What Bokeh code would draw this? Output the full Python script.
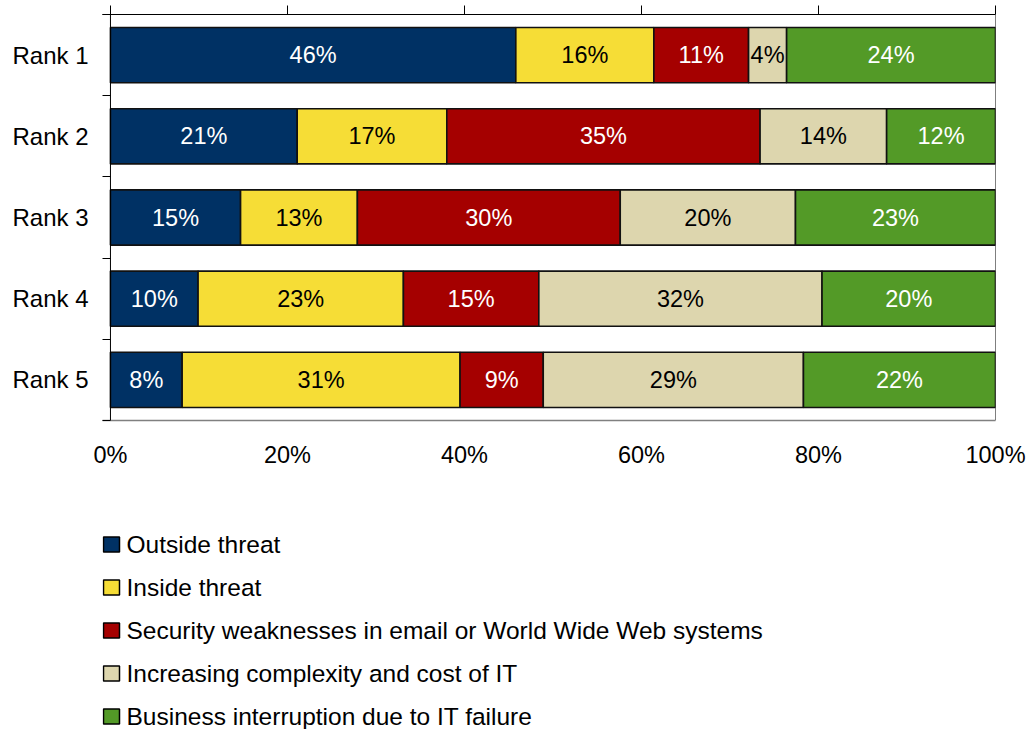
from bokeh.plotting import figure
from bokeh.models import ColumnDataSource, Range1d, LinearAxis, FixedTicker, Span
from bokeh.layouts import column
from bokeh.core.properties import value
from bokeh.embed import file_html
from bokeh.resources import INLINE

categories = ["Rank 1", "Rank 2", "Rank 3", "Rank 4", "Rank 5"]
series = [
    "Outside threat",
    "Inside threat",
    "Security weaknesses in email or World Wide Web systems",
    "Increasing complexity and cost of IT",
    "Business interruption due to IT failure",
]
outside = [45.8, 21.1, 14.7, 9.9, 8.1]
inside = [15.6, 16.9, 13.2, 23.2, 31.4]
security = [10.7, 35.4, 29.7, 15.3, 9.4]
complexity = [4.3, 14.3, 19.8, 32.0, 29.4]
interruption = [23.6, 12.3, 22.6, 19.6, 21.7]
values = [outside, inside, security, complexity, interruption]
colors = ["#003164", "#F6DD36", "#A50000", "#DDD6AE", "#539A27"]
label_colors = ["white", "black", "white", "black", "white"]
x_ticks = [0, 20, 40, 60, 80, 100]

FONT = "Liberation Sans"
FS = "23.5px"
LFS = "24.5px"

n = len(categories)
ycent = [n - i - 0.5 for i in range(n)]

data = {"y": ycent}
keys = []
for k, vals in enumerate(values):
    key = "s%d" % k
    keys.append(key)
    data[key] = vals
source = ColumnDataSource(data)

BL, BR = 102, 36
XPAD = 0.9  # a little room left of 0% for the category tick marks

p = figure(width=1031, height=480, output_backend="svg", toolbar_location=None,
           x_range=Range1d(-XPAD, 100), y_range=Range1d(0, n),
           min_border_left=BL, min_border_right=BR, min_border_top=14,
           min_border_bottom=60, x_axis_location=None, y_axis_location=None)
p.grid.visible = False
p.outline_line_color = None

p.hbar_stack(keys, y="y", height=0.68, color=colors, source=source,
             line_color="#111111", line_width=1.6)

# value labels
lx, ly, lt, lc = [], [], [], []
for i in range(n):
    left = 0.0
    for k in range(len(values)):
        v = values[k][i]
        lx.append(left + v / 2)
        ly.append(ycent[i])
        lt.append(f"{v:.0f}%")
        lc.append(label_colors[k])
        left += v
p.text(x=lx, y=ly, text=lt, text_color=lc, text_align="center",
       text_baseline="middle", text_font=value(FONT), text_font_size=FS)

# left axis: labels at centres, tick marks at category boundaries
yax = LinearAxis(ticker=FixedTicker(ticks=ycent, minor_ticks=list(range(n + 1))))
yax.major_label_overrides = {ycent[i]: categories[i] for i in range(n)}
yax.major_tick_out = 0
yax.major_tick_in = 0
yax.minor_tick_out = 0
yax.minor_tick_in = 8
yax.minor_tick_line_color = "black"
yax.axis_line_color = None
yax.major_label_standoff = 14
yax.major_label_text_font = FONT
yax.major_label_text_font_size = "24px"
yax.major_label_text_color = "black"
p.add_layout(yax, "left")

# top axis (ticks only)
tax = LinearAxis(ticker=FixedTicker(ticks=x_ticks))
tax.major_tick_out = 9
tax.major_tick_in = 0
tax.minor_tick_line_color = None
tax.major_label_overrides = {t: "" for t in x_ticks}
tax.major_label_standoff = 0
tax.major_label_text_font_size = "1px"
tax.axis_line_color = "black"
tax.major_tick_line_color = "black"
p.add_layout(tax, "above")

# bottom axis (labels only)
bax = LinearAxis(ticker=FixedTicker(ticks=x_ticks))
bax.major_label_overrides = {t: f"{t}%" for t in x_ticks}
bax.major_tick_line_color = None
bax.minor_tick_line_color = None
bax.axis_line_color = "#808080"
bax.axis_line_width = 1.5
bax.major_label_standoff = 15
bax.major_label_text_font = FONT
bax.major_label_text_font_size = FS
bax.major_label_text_color = "black"
p.add_layout(bax, "below")

p.add_layout(Span(location=0, dimension="height", line_color="black", line_width=1))
p.add_layout(Span(location=100, dimension="height", line_color="black", line_width=1))

# legend figure (coordinates in page pixels; frame aligned with chart frame)
LH = 249
leg = figure(width=1031, height=LH, output_backend="svg", toolbar_location=None,
             x_range=Range1d(BL, 1031 - BR), y_range=Range1d(LH, 0),
             min_border_left=BL, min_border_right=BR, min_border_top=0,
             min_border_bottom=0, x_axis_location=None, y_axis_location=None)
leg.grid.visible = False
leg.outline_line_color = None
ly0 = [64 + 43 * i for i in range(len(series))]
leg.rect(x=[111] * len(series), y=ly0, width=16, height=15, width_units="screen",
         height_units="screen", fill_color=colors, line_color="black", line_width=1.5)
leg.text(x=[126] * len(series), y=ly0, text=series, text_align="left",
         text_baseline="middle", text_font=value(FONT), text_font_size=LFS,
         text_color="black")

layout = column(p, leg, spacing=0)
open("out.html", "w").write(file_html(layout, INLINE))
